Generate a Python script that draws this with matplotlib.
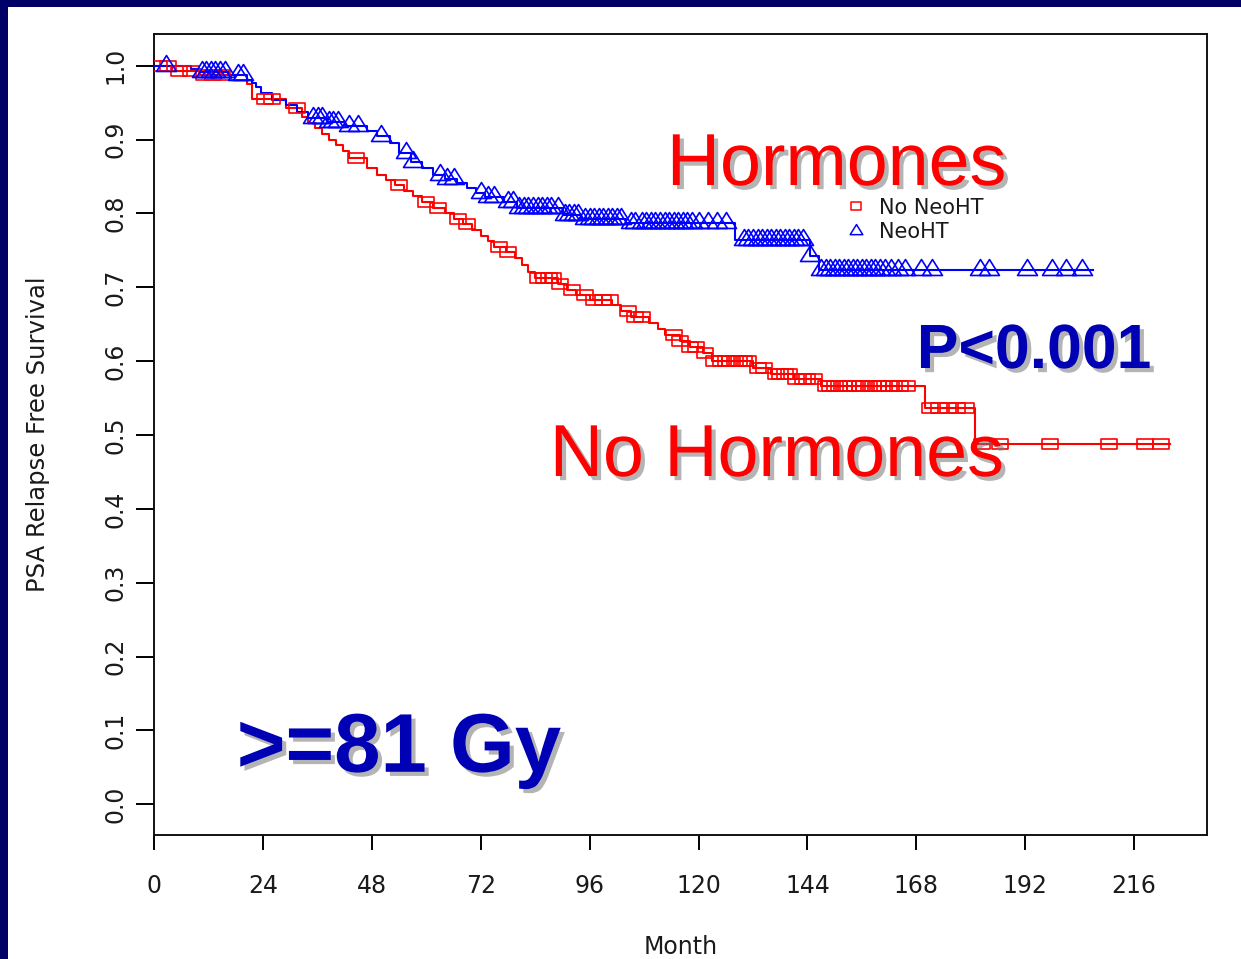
import numpy as np
import matplotlib
matplotlib.use("Agg")
import matplotlib.pyplot as plt
from matplotlib.path import Path
from matplotlib.patches import Rectangle
from matplotlib.lines import Line2D
import matplotlib.patheffects as pe

# ---- Kaplan-Meier step data (months, survival after each drop) ----
red_event_months = [4, 10, 17, 20.5, 21.5, 29, 32.5, 34, 35.5, 37, 38.5, 40, 41.5, 43, 47,
                    49, 51, 53, 55, 57, 59, 61.5, 64, 66, 68, 70, 72, 73.5, 75, 77.5,
                    79.5, 81, 82.5, 84, 89, 91, 93, 96, 101, 103, 105, 109, 111, 112.5, 116,
                    118, 121, 123, 132, 136, 141, 147, 170, 181]
red_event_surv = [0.993, 0.987, 0.981, 0.975, 0.955, 0.943, 0.930, 0.922, 0.915, 0.908,
                  0.900, 0.893, 0.885, 0.875, 0.862, 0.852, 0.845, 0.838, 0.831, 0.824,
                  0.816, 0.808, 0.800, 0.793, 0.786, 0.778, 0.770, 0.762, 0.755, 0.748,
                  0.740, 0.730, 0.721, 0.713, 0.705, 0.697, 0.690, 0.683, 0.676, 0.668,
                  0.660, 0.652, 0.643, 0.635, 0.627, 0.619, 0.611, 0.600, 0.591, 0.583,
                  0.576, 0.566, 0.537, 0.488]
red_last_month = 224
red_censor_months = [1, 3, 5.5, 8, 11, 13, 15, 24.5, 26, 31.5, 44.5, 54, 60, 62.5, 67, 69,
                     76, 78, 84.5, 86, 87, 88, 89.5, 92, 95, 97, 99, 100.5, 104.5, 106,
                     107.5, 114.5, 116, 118, 119.5, 121.5, 123.5, 125, 126, 127, 128, 129,
                     130, 131, 133, 134.5, 137, 138, 139, 140, 141.5, 143, 144, 145.5, 148,
                     149, 150, 151, 152, 153, 154.5, 155.5, 156.5, 157.5, 158.5, 159.5,
                     160.5, 162, 163, 164.5, 166, 171, 173, 175, 177, 179, 182.5, 186.5,
                     197.5, 210.5, 218.5, 222]

blue_event_months = [8, 10, 16.5, 20.5, 21.5, 22.5, 23.5, 26, 29, 31.5, 34, 38, 42, 47, 49,
                     52, 54, 56.5, 59, 61.5, 64, 66.7, 69, 71, 73, 77, 80, 90, 94, 104,
                     128, 144.5, 146.5]
blue_event_surv = [0.996, 0.991, 0.987, 0.981, 0.976, 0.971, 0.963, 0.954, 0.947, 0.937,
                   0.929, 0.924, 0.918, 0.912, 0.905, 0.895, 0.882, 0.870, 0.861, 0.852,
                   0.846, 0.841, 0.834, 0.828, 0.822, 0.815, 0.807, 0.798, 0.793, 0.787,
                   0.764, 0.743, 0.723]
blue_last_month = 207
blue_censor_months = [2.5, 10.5, 11.5, 12.5, 13.5, 14.5, 15.5, 18.5, 19.5, 35, 36, 37, 38.5,
                      39.5, 40.5, 43, 45, 50, 55.5, 57, 63, 64.5, 66, 72, 73.5, 75, 78, 79,
                      80.5, 81.5, 82.5, 83.5, 84.5, 85.5, 86.5, 87.5, 89, 90.5, 91.5, 92.5,
                      93.5, 95, 96, 97, 98, 99, 100, 101, 102, 103, 105, 106, 107.5, 108.5,
                      109.5, 110.5, 111.5, 112.5, 113.5, 114.5, 115.5, 116.5, 117.5, 118.5,
                      120, 122, 124, 126, 130, 131, 132, 133, 134, 135, 136, 137, 138, 139,
                      140, 141, 142, 143, 144.5, 147, 148, 149, 150, 151, 152, 153, 154,
                      155, 156, 157, 158, 159, 160, 161, 162.5, 164, 165.5, 169, 171.5,
                      182, 184, 192.5, 198, 201, 204.5]

x_ticks = [0, 24, 48, 72, 96, 120, 144, 168, 192, 216]
y_ticks = [0.0, 0.1, 0.2, 0.3, 0.4, 0.5, 0.6, 0.7, 0.8, 0.9, 1.0]
group_labels = ["No NeoHT", "NeoHT"]

RED = "#ff0000"
BLUE = "#0000ff"
NAVY_TEXT = "#0000b4"
FRAME = "#000066"
INK = "#1a1a1a"


def step_curve(event_t, event_s, last_t):
    t = np.concatenate([[0.0], np.asarray(event_t, float), [last_t]])
    s = np.concatenate([[1.0], np.asarray(event_s, float), [event_s[-1]]])
    return t, s


def surv_at(times, event_t, event_s):
    et = np.concatenate([[0.0], np.asarray(event_t, float)])
    es = np.concatenate([[1.0], np.asarray(event_s, float)])
    idx = np.searchsorted(et, np.asarray(times, float), side="right") - 1
    return es[idx]


# censor glyphs: wide open square and triangle sitting slightly above the line
square_mark = Path([(-8, -5.5), (8, -5.5), (8, 5.5), (-8, 5.5), (-8, -5.5)],
                   [Path.MOVETO, Path.LINETO, Path.LINETO, Path.LINETO, Path.CLOSEPOLY])
tri_mark = Path([(-10, -5), (10, -5), (0, 11), (-10, -5)],
                [Path.MOVETO, Path.LINETO, Path.LINETO, Path.CLOSEPOLY])

fig = plt.figure(figsize=(12.41, 9.59), dpi=100)
fig.patch.set_facecolor("white")
ax = fig.add_axes([0.1243, 0.1293, 0.8480, 0.8349])

rt, rs = step_curve(red_event_months, red_event_surv, red_last_month)
bt, bs = step_curve(blue_event_months, blue_event_surv, blue_last_month)
ax.step(rt, rs, where="post", color=RED, lw=1.5, zorder=3)
ax.step(bt, bs, where="post", color=BLUE, lw=1.5, zorder=3)

ax.plot(red_censor_months, surv_at(red_censor_months, red_event_months, red_event_surv),
        linestyle="none", marker=square_mark, markersize=11.5, mfc="none", mec=RED,
        mew=1.2, zorder=4)
ax.plot(blue_censor_months, surv_at(blue_censor_months, blue_event_months, blue_event_surv),
        linestyle="none", marker=tri_mark, markersize=15.8, mfc="none", mec=BLUE,
        mew=1.2, zorder=4)

ax.set_xlim(0, 232)
ax.set_ylim(-0.0416, 1.0425)
ax.set_xticks(x_ticks)
ax.set_xticklabels([str(v) for v in x_ticks])
ax.set_yticks(y_ticks)
ax.set_yticklabels([f"{v:.1f}" for v in y_ticks])

for sp in ax.spines.values():
    sp.set_linewidth(1.4)
    sp.set_color("#111111")
ax.tick_params(axis="x", length=11, width=1.4, pad=17, labelsize=17, labelcolor=INK)
ax.tick_params(axis="y", length=13, width=1.4, pad=6, labelsize=17, labelcolor=INK)
for lbl in ax.get_yticklabels():
    lbl.set_rotation(90)
    lbl.set_verticalalignment("center")

ax.set_xlabel("Month", fontsize=17, color=INK)
ax.xaxis.set_label_coords(0.5, -0.125)
ax.set_ylabel("PSA Relapse Free Survival", fontsize=17.5, color=INK)
ax.yaxis.set_label_coords(-0.099, 0.5)

legend_handles = [
    Line2D([], [], linestyle="none", marker=square_mark, markersize=7.5, mfc="none",
           mec=RED, mew=1.1),
    Line2D([], [], linestyle="none", marker=tri_mark, markersize=10, mfc="none",
           mec=BLUE, mew=1.1),
]
ax.legend(legend_handles, group_labels, loc="upper left", bbox_to_anchor=(0.647, 0.809),
          frameon=False, fontsize=15, handlelength=1.0, handletextpad=0.6,
          labelspacing=0.2, borderpad=0.0, labelcolor=INK)

shadow = [pe.SimplePatchShadow(offset=(3, -3), shadow_rgbFace="#777777", alpha=0.55),
          pe.Normal()]
ax.text(113, 0.8385, "Hormones", color=RED, fontsize=53, family="Liberation Sans",
        ha="left", va="baseline", path_effects=shadow, zorder=5)
ax.text(87.2, 0.4445, "No Hormones", color=RED, fontsize=53, family="Liberation Sans",
        ha="left", va="baseline", path_effects=shadow, zorder=5)
ax.text(168.1, 0.5907, "P<0.001", color=NAVY_TEXT, fontsize=45, fontweight="bold",
        family="Liberation Sans", ha="left", va="baseline", path_effects=shadow, zorder=5)
ax.text(18.2, 0.044, ">=81 Gy", color=NAVY_TEXT, fontsize=60, fontweight="bold",
        family="Liberation Sans", ha="left", va="baseline", path_effects=shadow, zorder=5)

# dark slide frame along the top and left edges
fig.patches.append(Rectangle((0, 1 - 7 / 959), 1, 7 / 959, transform=fig.transFigure,
                             facecolor=FRAME, edgecolor="none", zorder=10))
fig.patches.append(Rectangle((0, 0), 8 / 1241, 1, transform=fig.transFigure,
                             facecolor=FRAME, edgecolor="none", zorder=10))

fig.savefig("out.png", dpi=100, facecolor="white")
